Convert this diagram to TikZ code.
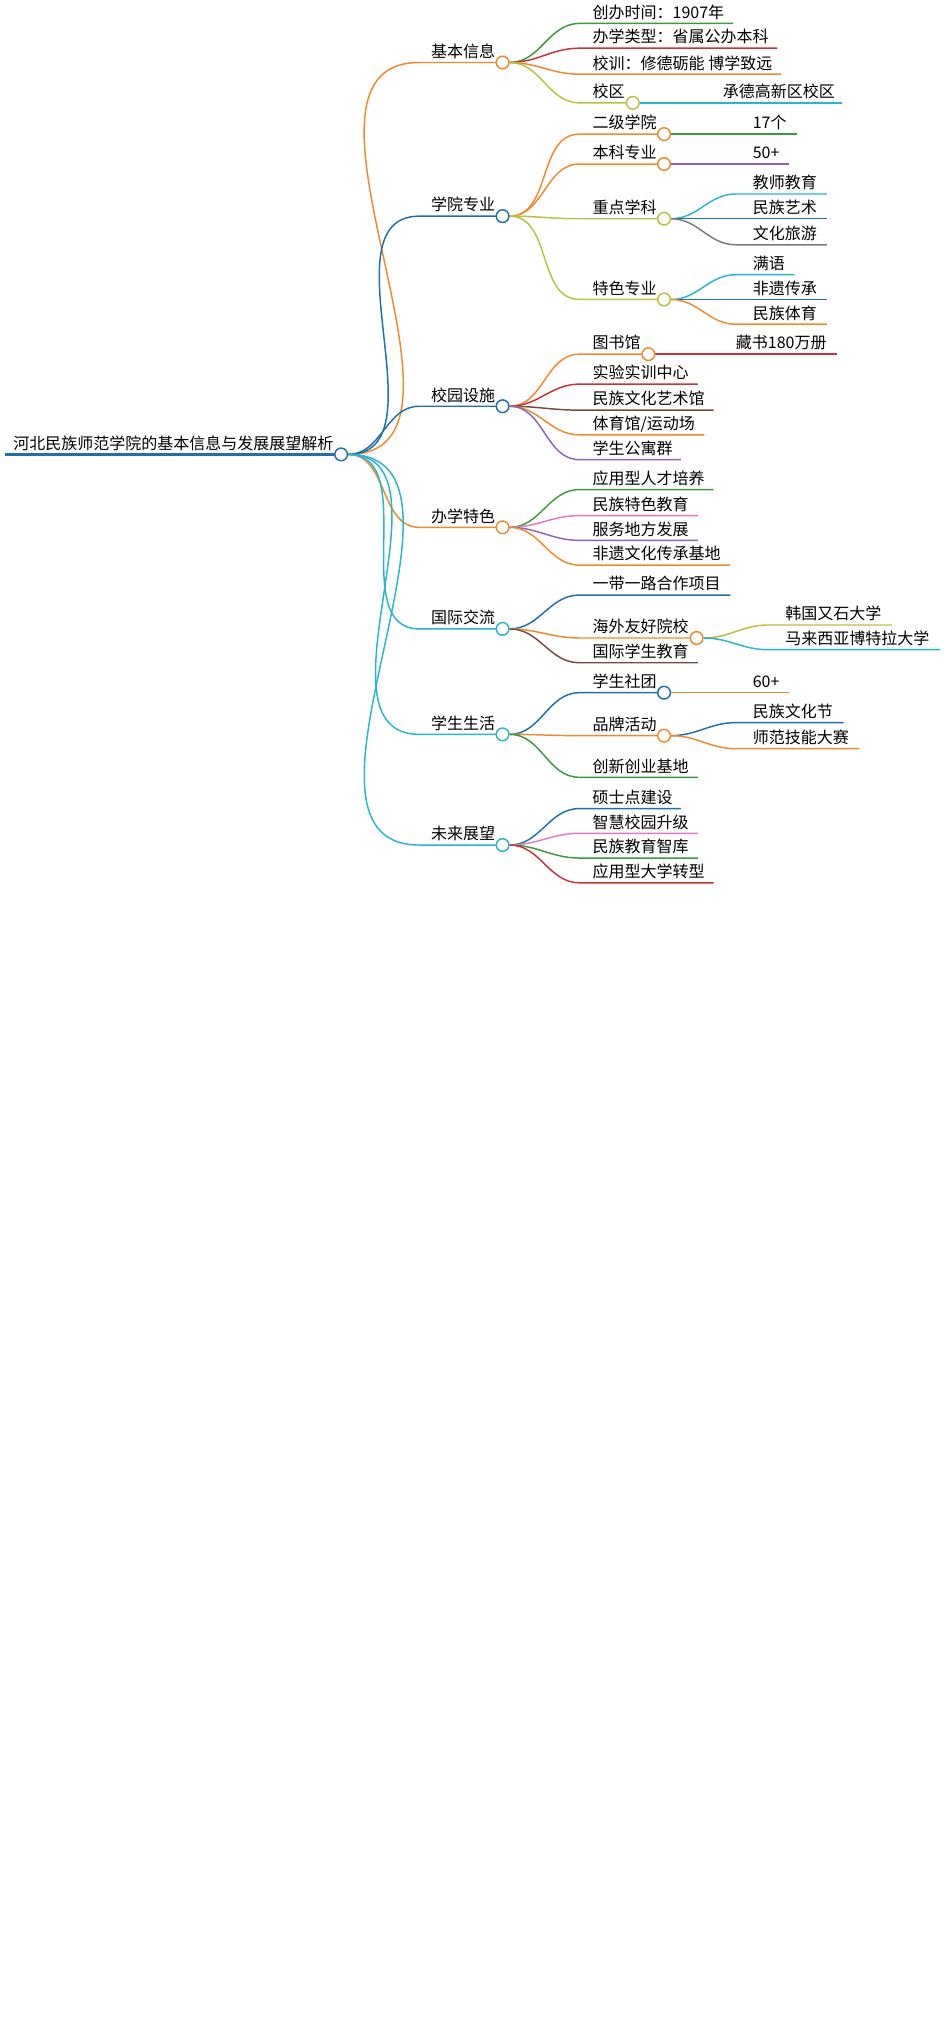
\documentclass[tikz,border=0pt]{standalone}
\usepackage{fontspec}
\setmainfont{Noto Sans CJK SC}
\usetikzlibrary{positioning}
\pgfdeclarelayer{bg}
\pgfsetlayers{bg,main}
\definecolor{cOrange}{HTML}{EF8A2C}
\definecolor{cBlue}{HTML}{1F6FA8}
\definecolor{cCyan}{HTML}{27B6CC}
\definecolor{cGreen}{HTML}{3C9A3C}
\definecolor{cRed}{HTML}{C8313A}
\definecolor{cLime}{HTML}{B8C23C}
\definecolor{cPurple}{HTML}{8E63B5}
\definecolor{cBrown}{HTML}{7A4A3A}
\definecolor{cGray}{HTML}{7A7A7A}
\definecolor{cPink}{HTML}{E27AC8}
\tikzset{
  lbl/.style={anchor=base west,inner sep=0pt,font=\fontsize{12}{14}\selectfont},
  knot/.style={circle,draw=#1,fill=white,line width=1.1pt,minimum size=9.5pt,inner sep=0pt},
  wire/.style={draw=#1,line width=1.1pt}
}
% #1 parent, #2 name, #3 y, #4 line start x, #5 text x, #6 line end x, #7 colour, #8 text
\newcommand\twig[8]{%
  \coordinate (#2s) at (#4,#3);
  \coordinate (#2e) at (#6,#3);
  \node[lbl] (#2) at (#5,#3-4) {#8};
  \begin{pgfonlayer}{bg}
  \draw[wire=#7] (#1.east) to[out=0,in=180] (#2s) -- (#2e);
  \end{pgfonlayer}
}
\begin{document}
\begin{tikzpicture}[x=0.9765pt,y=-0.9765pt]
\useasboundingbox (0,0) rectangle (724.3,1563.7);

% root
\node[knot=cBlue] (root) at (262,349) {};
\node[lbl] (rootText) at (10,345) {河北民族师范学院的基本信息与发展展望解析};
\coordinate (rootL) at (4,349);
\begin{pgfonlayer}{bg}
\draw[wire=cBlue,line width=2.6pt] (rootL) -- (root);
\end{pgfonlayer}

% level one
\node[knot=cOrange] (info) at (386,48) {};
\node[knot=cBlue] (major) at (386,166) {};
\node[knot=cBlue] (campus) at (386,312) {};
\node[knot=cOrange] (feature) at (386,405) {};
\node[knot=cCyan] (intl) at (386,483) {};
\node[knot=cCyan] (life) at (386,564) {};
\node[knot=cCyan] (future) at (386,649) {};
\twig{root}{infoT}{48}{322}{331}{386}{cOrange}{基本信息}
\twig{root}{majorT}{166}{322}{331}{386}{cBlue}{学院专业}
\twig{root}{campusT}{312}{322}{331}{386}{cBlue}{校园设施}
\twig{root}{featureT}{405}{322}{331}{386}{cOrange}{办学特色}
\twig{root}{intlT}{483}{322}{331}{386}{cCyan}{国际交流}
\twig{root}{lifeT}{564}{322}{331}{386}{cCyan}{学生生活}
\twig{root}{futureT}{649}{322}{331}{386}{cCyan}{未来展望}

% 基本信息
\twig{info}{found}{18}{445}{455}{563}{cGreen}{创办时间：1907年}
\twig{info}{kind}{37}{445}{455}{597}{cRed}{办学类型：省属公办本科}
\twig{info}{motto}{57}{445}{455}{600}{cOrange}{校训：修德砺能 博学致远}
\node[knot=cLime] (site) at (486,79) {};
\twig{info}{siteT}{79}{445}{455}{486}{cLime}{校区}
\twig{site}{siteV}{79}{540}{555}{647}{cCyan}{承德高新区校区}

% 学院专业
\node[knot=cOrange] (college) at (510,103) {};
\node[knot=cOrange] (degree) at (510,126) {};
\node[knot=cLime] (keysub) at (510,168) {};
\node[knot=cLime] (special) at (510,230) {};
\twig{major}{collegeT}{103}{445}{455}{510}{cOrange}{二级学院}
\twig{major}{degreeT}{126}{445}{455}{510}{cOrange}{本科专业}
\twig{major}{keysubT}{168}{445}{455}{510}{cLime}{重点学科}
\twig{major}{specialT}{230}{445}{455}{510}{cLime}{特色专业}
\twig{college}{collegeV}{103}{565}{578}{612}{cGreen}{17个}
\twig{degree}{degreeV}{126}{565}{578}{606}{cPurple}{50+}
\twig{keysub}{ks1}{149}{565}{578}{635}{cCyan}{教师教育}
\twig{keysub}{ks2}{168}{565}{578}{635}{cBlue}{民族艺术}
\twig{keysub}{ks3}{188}{565}{578}{635}{cGray}{文化旅游}
\twig{special}{sp1}{211}{565}{578}{610}{cCyan}{满语}
\twig{special}{sp2}{230}{565}{578}{635}{cBlue}{非遗传承}
\twig{special}{sp3}{249}{565}{578}{635}{cOrange}{民族体育}

% 校园设施
\node[knot=cOrange] (lib) at (498,272) {};
\twig{campus}{libT}{272}{445}{455}{498}{cOrange}{图书馆}
\twig{lib}{libV}{272}{550}{565}{643}{cRed}{藏书180万册}
\twig{campus}{lab}{295}{445}{455}{536}{cRed}{实验实训中心}
\twig{campus}{art}{315}{445}{455}{548}{cBrown}{民族文化艺术馆}
\twig{campus}{gym}{334}{445}{455}{541}{cOrange}{体育馆/运动场}
\twig{campus}{dorm}{353}{445}{455}{523}{cPurple}{学生公寓群}

% 办学特色
\twig{feature}{ft1}{376}{445}{455}{548}{cGreen}{应用型人才培养}
\twig{feature}{ft2}{396}{445}{455}{536}{cPink}{民族特色教育}
\twig{feature}{ft3}{415}{445}{455}{536}{cPurple}{服务地方发展}
\twig{feature}{ft4}{434}{445}{455}{561}{cOrange}{非遗文化传承基地}

% 国际交流
\node[knot=cOrange] (partner) at (535,490) {};
\twig{intl}{belt}{457}{445}{455}{561}{cBlue}{一带一路合作项目}
\twig{intl}{partnerT}{490}{445}{455}{535}{cOrange}{海外友好院校}
\twig{intl}{foreign}{509}{445}{455}{536}{cBrown}{国际学生教育}
\twig{partner}{pa1}{480}{590}{603}{685}{cLime}{韩国又石大学}
\twig{partner}{pa2}{499}{590}{603}{722}{cCyan}{马来西亚博特拉大学}

% 学生生活
\node[knot=cBlue] (club) at (510,532) {};
\node[knot=cOrange] (brand) at (510,565) {};
\twig{life}{clubT}{532}{445}{455}{510}{cBlue}{学生社团}
\twig{life}{brandT}{565}{445}{455}{510}{cOrange}{品牌活动}
\twig{life}{startup}{597}{445}{455}{536}{cGreen}{创新创业基地}
\twig{club}{clubV}{532}{565}{578}{606}{cOrange}{60+}
\twig{brand}{br1}{555}{565}{578}{648}{cBlue}{民族文化节}
\twig{brand}{br2}{575}{565}{578}{660}{cOrange}{师范技能大赛}

% 未来展望
\twig{future}{fu1}{621}{445}{455}{523}{cBlue}{硕士点建设}
\twig{future}{fu2}{640}{445}{455}{536}{cPink}{智慧校园升级}
\twig{future}{fu3}{659}{445}{455}{536}{cGreen}{民族教育智库}
\twig{future}{fu4}{678}{445}{455}{548}{cRed}{应用型大学转型}
\end{tikzpicture}
\end{document}
